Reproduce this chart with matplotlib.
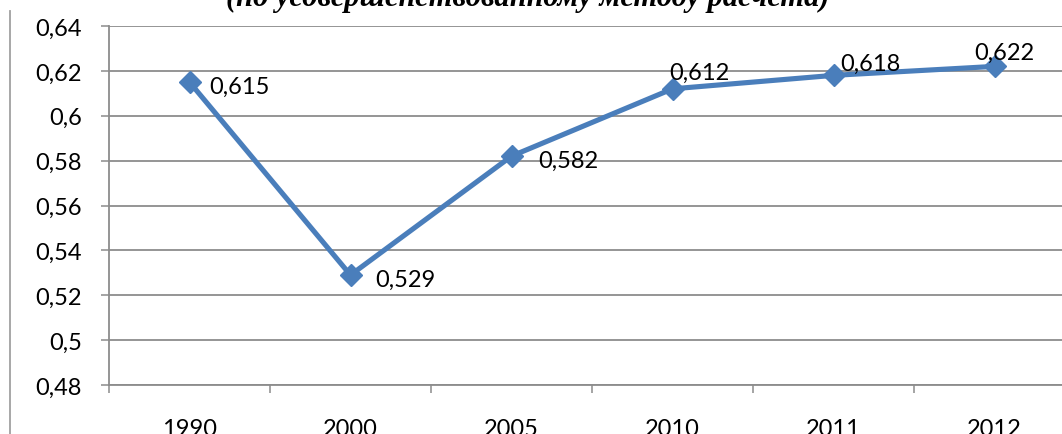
import matplotlib
matplotlib.use('Agg')
from matplotlib import pyplot as plt
from matplotlib.lines import Line2D

years = ["1990", "2000", "2005", "2010", "2011", "2012"]
values = [0.615, 0.529, 0.582, 0.612, 0.618, 0.622]
yticks = [0.48, 0.50, 0.52, 0.54, 0.56, 0.58, 0.60, 0.62, 0.64]
ytick_labels = ["0,48", "0,5", "0,52", "0,54", "0,56", "0,58", "0,6", "0,62", "0,64"]
# label offsets in pixels (dx, dy) relative to each point
label_offsets = [(20, -4), (25, -4), (27, -4), (-3, 16), (7, 12), (-20, 14)]

title = "(по усовершенствованному методу расчета)"
line_color = "#4a7ebb"
grid_color = "#8c8c8c"

W, H = 1062, 435
fig = plt.figure(figsize=(W / 100, H / 100), dpi=100)
ax = fig.add_axes([109 / W, 1 - 386 / H, 966 / W, 359 / H])

x = list(range(len(years)))
ax.plot(x, values, color=line_color, linewidth=3.7, marker="D",
        markersize=11.5, markerfacecolor=line_color, markeredgecolor=line_color,
        zorder=3, clip_on=False)

for xi, v, (dx, dy) in zip(x, values, label_offsets):
    ax.annotate("{:.3f}".format(v).replace(".", ","), (xi, v),
                xytext=(dx, dy), textcoords="offset pixels",
                ha="left", va="center", fontsize=17, family="Lato",
                color="black")

ax.set_xlim(-0.5, 5.5)
ax.set_ylim(0.48, 0.64)
ax.set_yticks(yticks)
ax.set_yticklabels(ytick_labels, family="Lato", fontsize=17)
ax.set_xticks(x)
ax.set_xticklabels(years, family="Lato", fontsize=17)
ax.set_xticks([i - 0.5 for i in range(len(years) + 1)], minor=True)

ax.tick_params(axis="x", which="major", length=0, pad=24)
ax.tick_params(axis="x", which="minor", length=5.5, width=1.1, color=grid_color, direction="out")
ax.tick_params(axis="y", length=5.5, width=1.1, color=grid_color, direction="out", pad=14)

ax.yaxis.grid(True, color=grid_color, linewidth=1.3)
ax.set_axisbelow(True)
for side in ["top", "right"]:
    ax.spines[side].set_visible(False)
for side in ["left", "bottom"]:
    ax.spines[side].set_color(grid_color)
    ax.spines[side].set_linewidth(1.3)

# outer chart border on the left
fig.add_artist(Line2D([9.5 / W, 9.5 / W], [0, 1 - 12 / H], color="#a0a0a0", linewidth=1.3))

fig.text(528 / W, 1 - 6 / H, title, ha="center", va="baseline",
         family="Liberation Serif", fontstyle="italic", fontweight="bold", fontsize=22)

fig.savefig("out.png", dpi=100)
